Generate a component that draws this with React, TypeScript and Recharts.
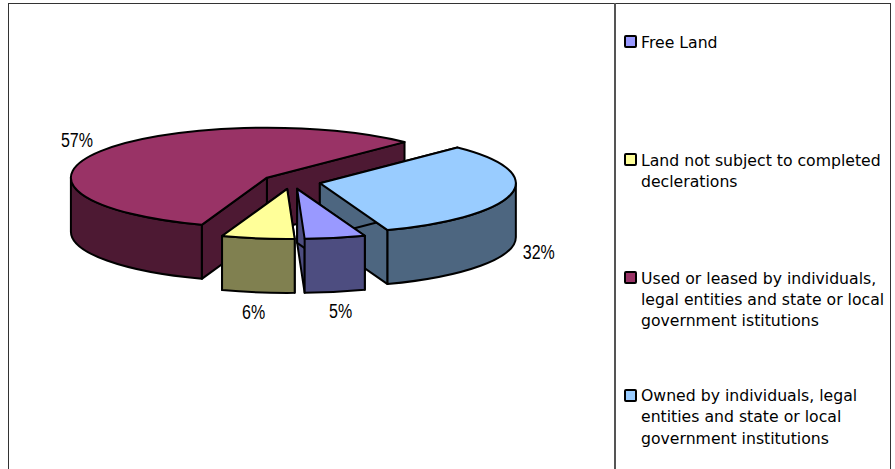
import { Legend, Pie, PieChart } from "recharts";

const categories = ["Free Land", "Land not subject to completed declerations", "Used or leased by individuals, legal entities and state or local government istitutions", "Owned by individuals, legal entities and state or local government institutions"];
const shares = [5, 6, 57, 32];
const topColors = ["#9999FF", "#FFFF99", "#993366", "#99CCFF"];
const wallColors = ["#4D4D80", "#808050", "#4D1933", "#4D6680"];
const legendLines = [
  ["Free Land"],
  ["Land not subject to completed", "declerations"],
  ["Used or leased by individuals,", "legal entities and state or local", "government istitutions"],
  ["Owned by individuals, legal", "entities and state or local", "government institutions"],
];
const legendTops = [31.5, 149.5, 267.5, 385];

// back slices are painted first so the front ones overlap them
const paintOrder = [2, 3, 0, 1];
const pieData = paintOrder.map((i) => ({
  name: categories[i],
  value: shares[i],
  fill: topColors[i],
  wall: wallColors[i],
}));

const WIDTH = 895;
const HEIGHT = 469;
const TILT = 0.255; // ellipse height / width
const DEPTH = 54;
const EXPLODE = 29;
const RAD = Math.PI / 180;
const FONT = "'DejaVu Sans', sans-serif";

function offsetCentre(cx: number, cy: number, midAngle: number) {
  return {
    x: cx + EXPLODE * Math.cos(midAngle * RAD),
    y: cy - EXPLODE * TILT * Math.sin(midAngle * RAD),
  };
}

function rim(x: number, y: number, r: number, angle: number) {
  return { x: x + r * Math.cos(angle * RAD), y: y - r * TILT * Math.sin(angle * RAD) };
}

// clockwise elliptical arc from angle a to the lower angle b
function arcTo(x: number, y: number, r: number, a: number, b: number) {
  const end = rim(x, y, r, b);
  const large = a - b > 180 ? 1 : 0;
  return `A ${r} ${r * TILT} 0 ${large} 1 ${end.x} ${end.y}`;
}

function TiltedSlice(props: any) {
  const { cx, cy, outerRadius: r, startAngle, endAngle, midAngle, fill, payload } = props;
  const wall = payload.wall;
  const hi = Math.max(startAngle, endAngle);
  const lo = Math.min(startAngle, endAngle);
  const { x, y } = offsetCentre(cx, cy, midAngle);
  const p1 = rim(x, y, r, hi);
  const p2 = rim(x, y, r, lo);
  const line = { stroke: "#000", strokeWidth: 2, strokeLinejoin: "round" as const };

  // the outer wall only shows on the front half of the ellipse
  const frontRanges: [number, number][] = [];
  for (const k of [0, -360]) {
    const a = Math.min(hi, k);
    const b = Math.max(lo, k - 180);
    if (a > b) frontRanges.push([a, b]);
  }

  const cutFace = (p: { x: number; y: number }) =>
    `M ${x} ${y} L ${p.x} ${p.y} L ${p.x} ${p.y + DEPTH} L ${x} ${y + DEPTH} Z`;

  return (
    <g>
      <path d={cutFace(p2)} fill={wall} {...line} />
      <path d={cutFace(p1)} fill={wall} {...line} />
      {frontRanges.map(([a, b]) => {
        const s = rim(x, y, r, a);
        const e = rim(x, y, r, b);
        const top = arcTo(x, y, r, a, b);
        const bottom = `A ${r} ${r * TILT} 0 0 0 ${s.x} ${s.y + DEPTH}`;
        return (
          <path
            key={a}
            d={`M ${s.x} ${s.y} ${top} L ${e.x} ${e.y + DEPTH} ${bottom} Z`}
            fill={wall}
            {...line}
          />
        );
      })}
      <path d={`M ${x} ${y} L ${p1.x} ${p1.y} ${arcTo(x, y, r, hi, lo)} Z`} fill={fill} {...line} />
    </g>
  );
}

function PercentLabel(props: any) {
  const { cx, cy, midAngle, outerRadius: r, value } = props;
  const c = offsetCentre(cx, cy, midAngle);
  const sin = Math.sin(midAngle * RAD);
  const lx = c.x + (r + 28) * Math.cos(midAngle * RAD);
  const ly = c.y - (r * TILT + 20) * sin + (sin < 0 ? DEPTH : 0);
  return (
    <text
      transform={`translate(${lx} ${ly}) scale(0.8 1)`}
      textAnchor="middle"
      dominantBaseline="central"
      fontFamily="'Liberation Sans', sans-serif"
      fontSize={20}
      fill="#000"
    >
      {value}%
    </text>
  );
}

function SideLegend() {
  return (
    <div style={{ position: "relative", width: 270, height: HEIGHT, fontFamily: FONT, fontSize: 15.7, color: "#000", textAlign: "left" }}>
      {legendLines.map((lines, i) => (
        <div key={i} style={{ position: "absolute", left: 0, top: legendTops[i], display: "flex" }}>
          <span
            style={{
              boxSizing: "border-box",
              width: 13,
              height: 13,
              marginTop: 3.5,
              marginRight: 4,
              border: "2px solid #000",
              borderRadius: 2,
              background: topColors[i],
            }}
          />
          <span style={{ lineHeight: "21.3px", whiteSpace: "pre" }}>{lines.join("\n")}</span>
        </div>
      ))}
    </div>
  );
}

export default function App() {
  return (
    <div style={{ position: "absolute", left: 0, top: 0, width: WIDTH, height: HEIGHT, overflow: "hidden", background: "#fff" }}>
      <div style={{ position: "absolute", left: 8, top: 3, width: 883, height: 480, boxSizing: "border-box", border: "1.5px solid #333" }} />
      <div style={{ position: "absolute", left: 614, top: 3, width: 1.5, height: 470, background: "#555" }} />
      <PieChart width={WIDTH} height={HEIGHT} margin={{ top: 0, right: 0, bottom: 0, left: 0 }} style={{ position: "absolute", left: 0, top: 0 }}>
        <Pie
          data={pieData}
          dataKey="value"
          nameKey="name"
          cx={291.5}
          cy={181.6}
          outerRadius={196}
          startAngle={-109.4}
          endAngle={-469.4}
          stroke="none"
          isAnimationActive={false}
          shape={TiltedSlice}
          label={PercentLabel}
          labelLine={false}
        />
        <Legend
          layout="vertical"
          align="right"
          verticalAlign="top"
          wrapperStyle={{ left: 624, top: 0, right: "auto", width: 270 }}
          content={() => <SideLegend />}
        />
      </PieChart>
    </div>
  );
}
